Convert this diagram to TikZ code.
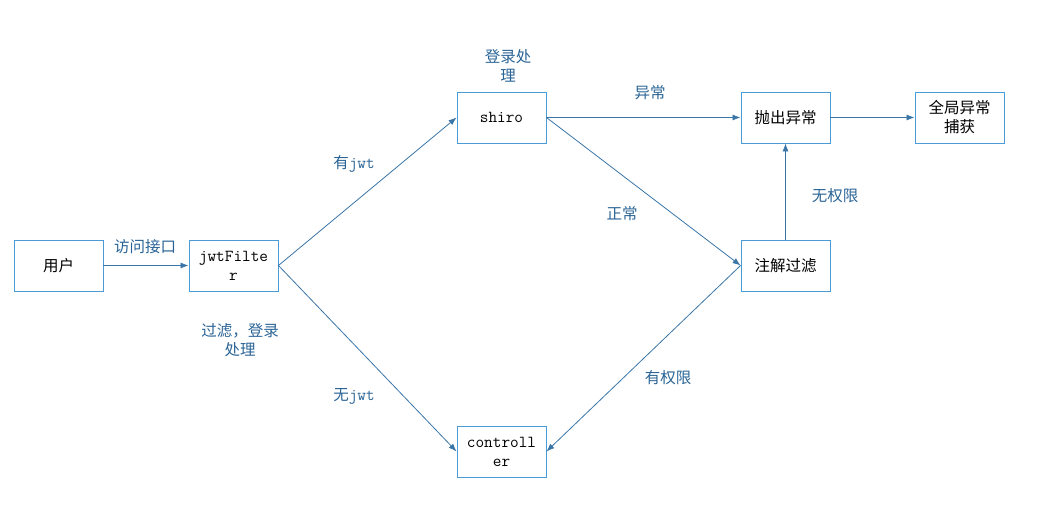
\documentclass[tikz,border=0pt]{standalone}
\usepackage{fontspec}
\setmainfont{Noto Sans CJK SC}
\usetikzlibrary{arrows.meta,positioning}
\definecolor{fborder}{HTML}{4A9BD6}
\definecolor{fline}{HTML}{3A75A8}
\definecolor{flabel}{HTML}{2A6496}
\newcommand{\jw}[1]{{\ttfamily\fontsize{16.8}{19}\selectfont #1}}

\begin{document}
\begin{tikzpicture}[x=1pt,y=-1pt,
  box/.style={draw=fborder,line width=0.9pt,minimum width=89pt,minimum height=51pt,
    inner sep=0pt,align=center,font=\fontsize{15.5}{19}\selectfont},
  flow/.style={draw=fline,line width=0.8pt,-{Latex[length=8pt,width=6pt]}},
  lbl/.style={text=flabel,align=center,font=\fontsize{15.5}{19}\selectfont}]
  \useasboundingbox (0,0) rectangle (1048,513);
  % boxes
  \node[box] (user)   at (58.5,265.5)  {用户};
  \node[box] (filter) at (233.5,265.5) {\jw{jwtFilte}\\\jw{r}};
  \node[box] (shiro)  at (501.5,117.5) {\jw{shiro}};
  \node[box] (ctrl)   at (501.5,451.5) {\jw{controll}\\\jw{er}};
  \node[box] (annot)  at (785.5,265.5) {注解过滤};
  \node[box] (throw)  at (785.5,117.5) {抛出异常};
  \node[box] (global) at (959.5,117.5) {全局异常\\捕获};
  % connectors
  \draw[flow] (user.east) -- (filter.west);
  \draw[flow] (filter.east) -- (shiro.west);
  \draw[flow] (filter.east) -- (ctrl.west);
  \draw[flow] (shiro.east) -- (throw.west);
  \draw[flow] (shiro.east) -- (annot.west);
  \draw[flow] (annot.north) -- (throw.south);
  \draw[flow] (annot.west) -- (ctrl.east);
  \draw[flow] (throw.east) -- (global.west);
  % labels
  \node[lbl] (lvisit)  at (145,247) {访问接口};
  \node[lbl] (lhas)    at (354,164) {有\jw{jwt}};
  \node[lbl] (lnone)   at (354,396) {无\jw{jwt}};
  \node[lbl] (lerr)    at (650,93)  {异常};
  \node[lbl] (lok)     at (622,214) {正常};
  \node[lbl] (lnoperm) at (835,196) {无权限};
  \node[lbl] (lperm)   at (668,378) {有权限};
  \node[lbl] (llogin)  at (508,66)  {登录处\\理};
  \node[lbl] (lfilt)   at (240,340) {过滤，登录\\处理};
\end{tikzpicture}
\end{document}
